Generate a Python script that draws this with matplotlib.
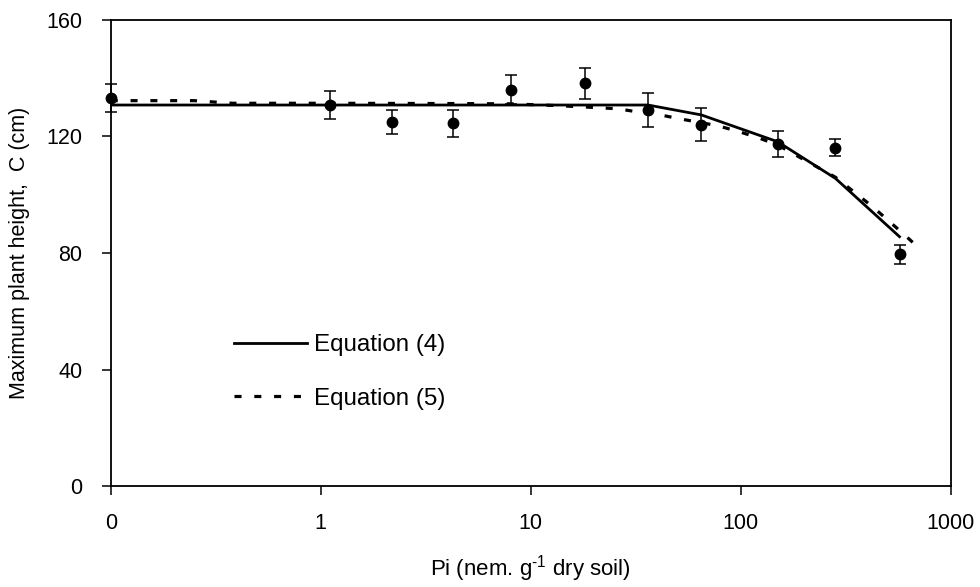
import matplotlib
matplotlib.use("Agg")
import matplotlib.pyplot as plt
from matplotlib.lines import Line2D

plt.rcParams['font.family'] = ['Liberation Sans', 'DejaVu Sans']
plt.rcParams['mathtext.fontset'] = 'custom'
plt.rcParams['mathtext.rm'] = 'Liberation Sans'
plt.rcParams['axes.unicode_minus'] = False

# observed data (x = 0.1 stands for the "0" nematode treatment)
pi_obs = [0.1, 1.11, 2.19, 4.25, 8.1, 18.2, 36.2, 65, 150, 283, 571]
height_obs = [133.3, 130.8, 125.0, 124.5, 136.0, 138.2, 129.0, 124.0, 117.4, 116.2, 79.5]
height_err = [4.8, 4.8, 4.2, 4.6, 5.0, 5.2, 5.8, 5.7, 4.6, 2.8, 3.3]

# fitted curves
eq4_x = [0.1, 36.2, 65, 150, 283, 571]
eq4_y = [130.8, 130.8, 127.4, 118.2, 105.6, 85.6]

eq5_x = [0.1, 0.25, 0.38, 1.1, 4.25, 8.1, 13.3, 20.8, 26, 31.9, 40.2, 50.1,
         77.7, 98.9, 123, 150, 283, 425, 513, 604, 704]
eq5_y = [132.3, 132.3, 131.4, 131.4, 131.3, 131.2, 130.6, 129.9, 129.5, 128.5,
         127.6, 126.2, 123.7, 121.6, 119.4, 117.1, 106.0, 95.9, 90.7, 86.2, 81.8]

x_ticks = [0.1, 1, 10, 100, 1000]
x_ticklabels = ['0', '1', '10', '100', '1000']
y_ticks = [0, 40, 80, 120, 160]

fig = plt.figure(figsize=(9.8, 5.87), dpi=100)
ax = fig.add_axes([0.113, 0.172, 0.857, 0.794])

ax.plot(eq4_x, eq4_y, color='black', lw=2.0, solid_joinstyle='miter')
ax.plot(eq5_x, eq5_y, color='black', lw=2.3, ls=(0, (2.2, 4.0)))
ax.errorbar(pi_obs, height_obs, yerr=height_err, fmt='o', color='black',
            ms=7.5, elinewidth=1.1, capsize=4.4, capthick=1.1, clip_on=False, zorder=5)

ax.set_xscale('log')
ax.set_xlim(0.1, 1000)
ax.set_ylim(0, 160)
ax.set_xticks(x_ticks)
ax.set_xticklabels(x_ticklabels)
ax.minorticks_off()
ax.set_yticks(y_ticks)
ax.tick_params(axis='both', direction='out', length=6.5, width=1.1, labelsize=15.5)
ax.tick_params(axis='x', pad=13)
ax.tick_params(axis='y', pad=14)

for s in ax.spines.values():
    s.set_linewidth(1.3)

ax.set_xlabel(r'Pi (nem. g$^{\text{-1}}$ dry soil)', fontsize=16, labelpad=14)
ax.set_ylabel('Maximum plant height,  C (cm)', fontsize=15.5, labelpad=12)

handles = [Line2D([], [], color='black', lw=2.0),
           Line2D([], [], color='black', lw=2.3, ls=(0, (2.2, 4.0)))]
ax.legend(handles, ['Equation (4)', 'Equation (5)'], loc='center left',
          bbox_to_anchor=(0.147, 0.245), frameon=False, fontsize=17.4,
          handlelength=3.0, handletextpad=0.3, labelspacing=1.3,
          borderpad=0, borderaxespad=0)

fig.savefig('out.png', dpi=100)
